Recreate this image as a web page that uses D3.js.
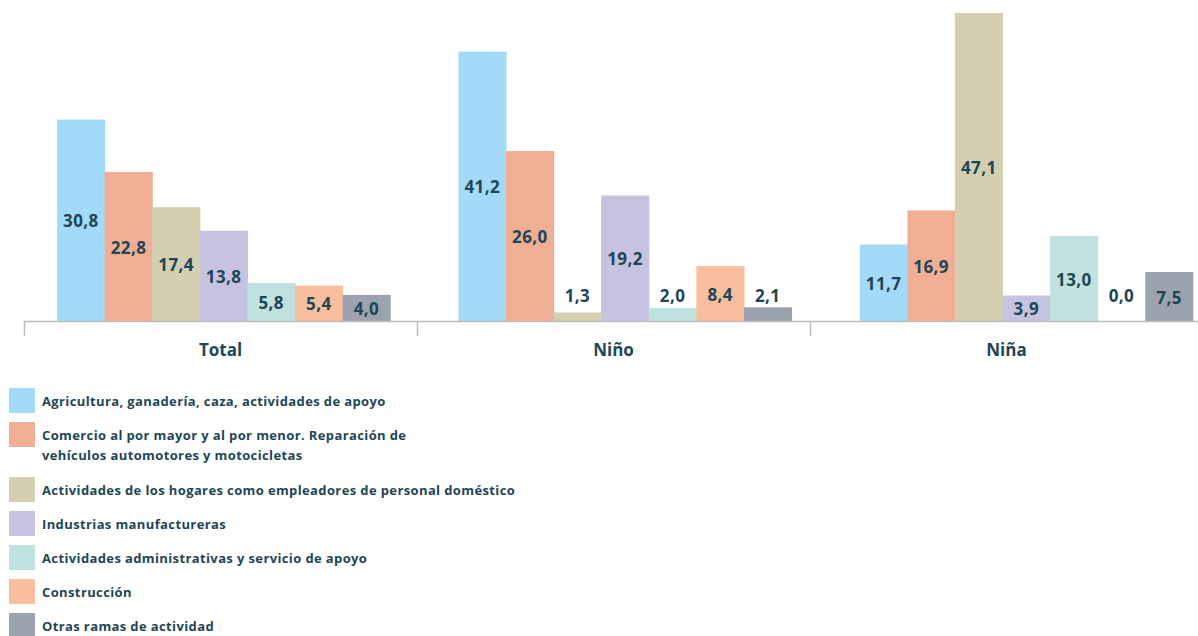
<!DOCTYPE html>
<html>
<head>
<meta charset="utf-8">
<script src="https://cdn.jsdelivr.net/npm/d3@7"></script>
<style>
  body { margin: 0; background: #fff; }
  svg { display: block; font-family: "Open Sans", Lato, sans-serif; }
</style>
</head>
<body>
<div id="chart"></div>
<script>
// groups along the x axis
var groups = ["Total", "Niño", "Niña"];

// activity branches (legend order)
var branches = [
	["Agricultura, ganadería, caza, actividades de apoyo"],
	["Comercio al por mayor y al por menor. Reparación de", "vehículos automotores y motocicletas"],
	["Actividades de los hogares como empleadores de personal doméstico"],
	["Industrias manufactureras"],
	["Actividades administrativas y servicio de apoyo"],
	["Construcción"],
	["Otras ramas de actividad"]
];

var colors = ["#a2daf7", "#f0af94", "#d4cfb0", "#c6c3e1", "#c0e2df", "#f8be9d", "#9ca3ae"];

// values per branch, one per group (Total, Niño, Niña)
var agricultura = [30.8, 41.2, 11.7];
var comercio = [22.8, 26.0, 16.9];
var hogares = [17.4, 1.3, 47.1];
var industrias = [13.8, 19.2, 3.9];
var administrativas = [5.8, 2.0, 13.0];
var construccion = [5.4, 8.4, 0.0];
var otras = [4.0, 2.1, 7.5];

var series = [agricultura, comercio, hogares, industrias, administrativas, construccion, otras];

var width = 1198,
	height = 636,
	baseline = 321,
	textColor = "#1d4656";

var svg = d3.select("#chart")
	.append("svg")
	.attr("width", width)
	.attr("height", height);

// scales
var x0 = d3.scaleBand().domain(groups).range([23, 1227]).paddingInner(0.17).paddingOuter(0.085);
var x1 = d3.scaleBand().domain(d3.range(series.length)).range([0, x0.bandwidth()]);
var xAxisScale = d3.scaleBand().domain(groups).range([24, 1203]);
var y = d3.scaleLinear().domain([0, 47.1]).range([baseline, 13]);

// flat data for the bars
var barData = [];
groups.forEach(function(g, gi) {
	series.forEach(function(s, si) {
		barData.push({ group: g, index: si, value: s[gi] });
	});
});

var bars = svg.append("g");

bars.selectAll("rect")
	.data(barData)
	.enter().append("rect")
	.attr("x", function(d) { return x0(d.group) + x1(d.index); })
	.attr("y", function(d) { return y(d.value); })
	.attr("width", x1.bandwidth() + 0.5)
	.attr("height", function(d) { return baseline - y(d.value); })
	.style("fill", function(d) { return colors[d.index]; });

// value labels: inside the bar when there is room, else just above
bars.selectAll("text")
	.data(barData)
	.enter().append("text")
	.attr("x", function(d) { return x0(d.group) + x1(d.index) + x1.bandwidth() / 2; })
	.attr("y", function(d) {
		if (d.value < 3) return y(4);
		return y(d.value / 2);
	})
	.attr("dy", "0.42em")
	.attr("text-anchor", "middle")
	.style("font-size", "17px")
	.style("font-weight", "bold")
	.style("letter-spacing", "0.4px")
	.style("fill", textColor)
	.text(function(d) { return d3.format(".1f")(d.value).replace(".", ","); });

// x axis
var axis = svg.append("g");

axis.append("line")
	.attr("x1", xAxisScale.range()[0])
	.attr("x2", width)
	.attr("y1", baseline + 0.5)
	.attr("y2", baseline + 0.5)
	.style("stroke", "#bdbdbd")
	.style("stroke-width", 1.5);

axis.selectAll(".tick")
	.data(groups)
	.enter().append("line")
	.attr("class", "tick")
	.attr("x1", function(d) { return xAxisScale(d) + 0.5; })
	.attr("x2", function(d) { return xAxisScale(d) + 0.5; })
	.attr("y1", baseline)
	.attr("y2", baseline + 15)
	.style("stroke", "#bdbdbd")
	.style("stroke-width", 1.5);

axis.selectAll(".label")
	.data(groups)
	.enter().append("text")
	.attr("class", "label")
	.attr("x", function(d) { return xAxisScale(d) + xAxisScale.bandwidth() / 2; })
	.attr("y", 356)
	.attr("text-anchor", "middle")
	.style("font-size", "17px")
	.style("font-weight", "bold")
	.style("fill", textColor)
	.text(function(d) { return d; });

// legend
var legendY = [];
var pos = 388;
branches.forEach(function(b) {
	legendY.push(pos);
	pos += 34 + (b.length - 1) * 21;
});

var legend = svg.append("g");

var item = legend.selectAll("g")
	.data(branches)
	.enter().append("g")
	.attr("transform", function(d, i) { return "translate(9," + legendY[i] + ")"; });

item.append("rect")
	.attr("width", 26)
	.attr("height", 25)
	.style("fill", function(d, i) { return colors[i]; });

item.selectAll("text")
	.data(function(d) { return d; })
	.enter().append("text")
	.attr("x", 33)
	.attr("y", function(d, i) { return 18 + i * 20; })
	.style("font-size", "13px")
	.style("font-weight", "bold")
	.style("letter-spacing", "0.38px")
	.style("fill", textColor)
	.text(function(d) { return d; });
</script>
</body>
</html>
